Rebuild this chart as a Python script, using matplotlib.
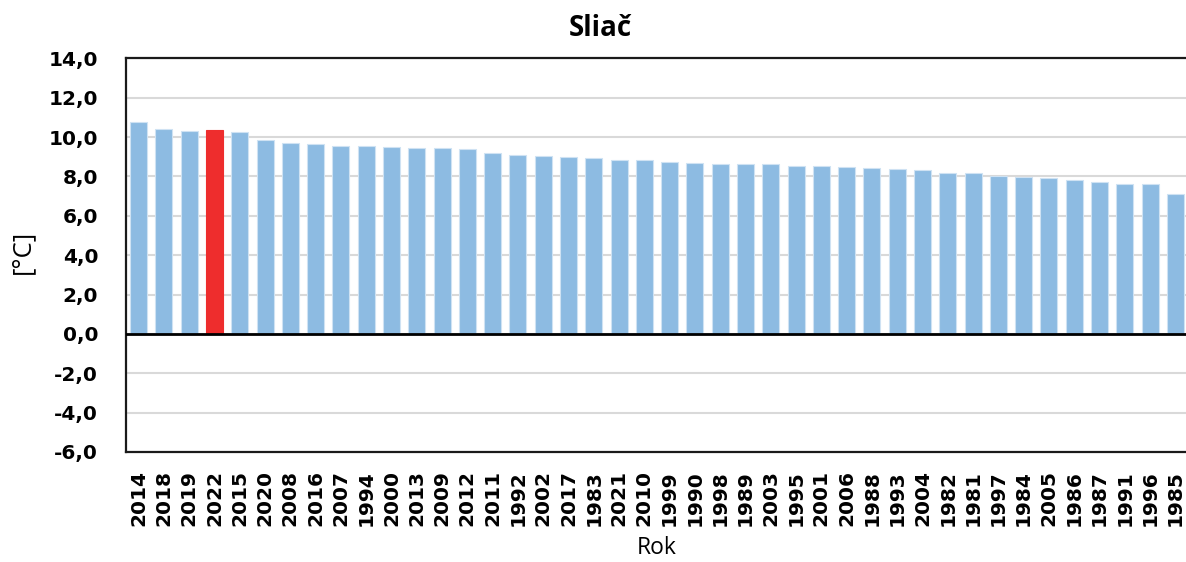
import matplotlib
matplotlib.use("Agg")
import matplotlib.pyplot as plt
from matplotlib.ticker import FuncFormatter

years = ["2014", "2018", "2019", "2022", "2015", "2020", "2008", "2016", "2007", "1994",
         "2000", "2013", "2009", "2012", "2011", "1992", "2002", "2017", "1983", "2021",
         "2010", "1999", "1990", "1998", "1989", "2003", "1995", "2001", "2006", "1988",
         "1993", "2004", "1982", "1981", "1997", "1984", "2005", "1986", "1987", "1991",
         "1996", "1985"]
temps = [10.78, 10.40, 10.32, 10.34, 10.27, 9.83, 9.70, 9.63, 9.56, 9.55,
         9.50, 9.44, 9.44, 9.39, 9.21, 9.08, 9.03, 8.97, 8.91, 8.84,
         8.81, 8.72, 8.67, 8.64, 8.62, 8.62, 8.52, 8.52, 8.47, 8.42,
         8.37, 8.32, 8.18, 8.17, 8.03, 7.95, 7.90, 7.83, 7.71, 7.61,
         7.60, 7.09]
highlight_year = "2022"
y_ticks = [-6, -4, -2, 0, 2, 4, 6, 8, 10, 12, 14]

W, H = 1186, 562
fig = plt.figure(figsize=(W / 100, H / 100), dpi=100)
left, right, top, bottom = 126, 1188, 58.3, 452
ax = fig.add_axes([left / W, 1 - bottom / H, (right - left) / W, (bottom - top) / H])

colors = ["#ee2d2d" if y == highlight_year else "#8dbbe2" for y in years]
edges = ["#ee2d2d" if y == highlight_year else "#cfe2f3" for y in years]
x = list(range(len(years)))
ax.bar(x, temps, width=0.67, color=colors, edgecolor=edges, linewidth=0.8, zorder=3)

ax.set_xlim(-0.5, len(years) - 0.5)
ax.set_ylim(-6, 14)
ax.set_yticks(y_ticks)
ax.yaxis.set_major_formatter(FuncFormatter(lambda v, p: f"{v:.1f}".replace(".", ",")))
ax.grid(axis="y", color="#d9d9d9", linewidth=1.5, zorder=0)
ax.axhline(0, color="#000000", linewidth=2, zorder=4)

for s in ax.spines.values():
    s.set_color("#1a1a1a")
    s.set_linewidth(1.6)

ax.set_xticks(x)
ax.set_xticklabels(years, rotation=90, fontsize=14.5, fontweight="bold",
                   family="DejaVu Sans", va="top")
ax.tick_params(axis="x", length=0, pad=13)
ax.tick_params(axis="y", length=0, pad=20)
for lab in ax.get_yticklabels():
    lab.set_fontsize(14.5)
    lab.set_fontweight("bold")
    lab.set_family("DejaVu Sans")

fig.text(600 / W, 1 - 28 / H, "Sliač", ha="center", va="center",
         fontsize=20, fontweight="bold", family="Open Sans")
fig.text(23 / W, 1 - 252 / H, "[°C]", ha="center", va="center", rotation=90,
         fontsize=18.5, family="Open Sans")
fig.text(657 / W, 1 - 548 / H, "Rok", ha="center", va="center",
         fontsize=16.5, family="Open Sans")

fig.savefig("out.png", dpi=100)
